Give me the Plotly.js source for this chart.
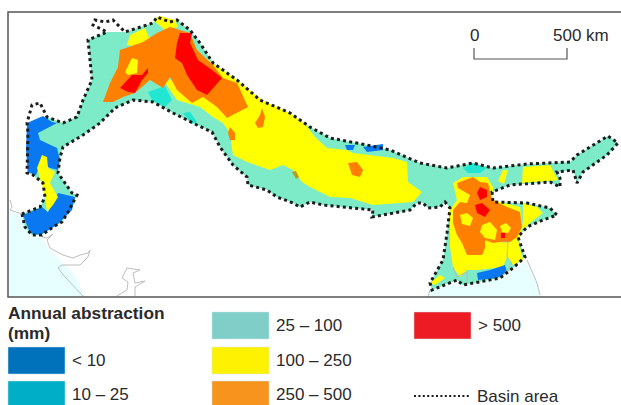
<!DOCTYPE html>
<html>
<head>
<meta charset="utf-8">
<script src="https://cdn.plot.ly/plotly-3.0.1.min.js"></script>
<style>
html,body{margin:0;padding:0;background:#fff}
#chart{width:621px;height:405px}
.scatterlayer{filter:blur(0.6px)}
</style>
</head>
<body>
<div id="chart"></div>
<script>
// Basin outline
const basinX = [22,25,32,42,53,62,68,77,72,65,58,60,63,83,100,115,133,153,173,197,212,220,233,247,248,267,277,293,300,310,323,343,373,372,410,417,423,428,440,445,450,447,443,430,432,457,463,500,513,525,518,527,543,557,550,527,493,492,510,550,560,560,557,573,577,583,607,618,608,577,570,527,493,473,447,420,390,367,330,310,290,260,237,213,200,190,177,170,157,153,125,113,105,95,93,107,88,92,83,77,63,47,40,32,27,28,27,33,43,45,40,22];
const basinY = [214,227,235,235,227,222,212,195,193,183,173,158,147,135,123,108,100,102,113,125,132,147,165,177,185,190,197,203,207,202,205,207,210,217,210,203,203,208,207,202,208,233,260,283,290,280,285,278,268,257,237,227,220,215,208,203,202,192,185,182,187,178,172,170,183,172,155,143,136,155,162,164,168,163,168,163,150,145,138,127,113,100,80,63,43,30,20,22,17,23,32,20,22,20,25,32,40,80,100,117,123,117,103,105,123,133,173,175,183,197,207,214];
// Land under the classes (25 - 100 mm)
const landX = [22,25,32,42,53,62,68,77,72,65,58,60,63,83,100,115,133,153,173,197,212,220,233,247,248,267,277,293,300,310,323,343,373,372,410,417,423,428,440,445,450,447,443,430,432,457,463,500,513,525,518,527,543,557,550,527,493,492,510,550,560,560,557,573,577,583,607,618,608,577,570,527,493,473,447,420,390,367,330,310,290,260,237,213,200,190,177,170,157,153,125,107,88,92,83,77,63,47,27,28,27,33,43,45,40,22];
const landY = [214,227,235,235,227,222,212,195,193,183,173,158,147,135,123,108,100,102,113,125,132,147,165,177,185,190,197,203,207,202,205,207,210,217,210,203,203,208,207,202,208,233,260,283,290,280,285,278,268,257,237,227,220,215,208,203,202,192,185,182,187,178,172,170,183,172,155,143,136,155,162,164,168,163,168,163,150,145,138,127,113,100,80,63,43,30,20,22,17,23,32,32,40,80,100,117,123,117,123,133,173,175,183,197,207,214];
// Pale sea
const seaWestX = [9,22,32,42,48,62,75,85,9];
const seaWestY = [212,216,236,238,248,262,275,297,297];
const seaEastX = [430,457,500,525,537,540,430];
const seaEastY = [290,283,280,262,283,297,297];
// Yellow 100 - 250 mm
const yellowMainX = [165,175,205,237,262,290,305,315,327,347,353,393,407,408,422,413,373,350,330,310,302,293,283,270,247,233,230,223,213,200,177,170];
const yellowMainY = [82,78,58,80,100,113,124,137,148,150,153,158,162,182,192,202,205,198,197,187,182,170,165,170,162,155,133,123,117,107,100,90];
const yellowTopX = [127,130,145,150,140];
const yellowTopY = [45,35,28,40,47];
const yellowRimX = [153,160,175,178,165];
const yellowRimY = [20,16,20,27,30];
const yellowIslandX = [125,132,138,137,128];
const yellowIslandY = [72,58,60,73,75];
const yellowWestX = [37,42,47,48,55,50,58,53,47,45,42];
const yellowWestY = [168,155,157,168,172,183,197,205,212,197,185];
const yellowDeltaX = [453,463,487,493,492,520,523,518,523,513,507,503,477,467,460,453,450,450,457];
const yellowDeltaY = [183,177,177,187,200,207,227,240,260,265,257,267,270,270,277,267,247,210,200];
const yellowEastX = [523,550,558,550,522];
const yellowEastY = [167,165,180,181,183];
const yellowStripeX = [498,503,508,504];
const yellowStripeY = [181,170,170,184];
const yellowSpurX = [523,537,543,530,523];
const yellowSpurY = [203,207,213,223,230];
const yellowTipX = [430,440,445,435];
const yellowTipY = [283,275,278,285];
const yellowPatchAX = [460,467,473,470,462];
const yellowPatchAY = [215,213,218,226,224];
const yellowPatchBX = [482,490,497,495,485,480];
const yellowPatchBY = [225,222,230,240,238,232];
const yellowPatchCX = [500,506,511,508,502];
const yellowPatchCY = [226,223,228,233,232];
// Orange 250 - 500 mm
const orangeNorthX = [103,110,118,120,143,157,170,180,190,197,213,223,237,248,233,227,217,203,192,177,170,163,150,135,123,113];
const orangeNorthY = [102,83,67,50,42,33,27,30,33,50,65,78,83,107,115,118,107,97,103,90,77,88,80,93,97,102];
const orangeSmallAX = [262,265,263,258,255,260];
const orangeSmallAY = [108,117,127,128,123,115];
const orangeSmallBX = [230,235,235,230,228];
const orangeSmallBY = [127,133,140,140,133];
const orangeMidX = [348,357,363,360,352];
const orangeMidY = [163,162,170,177,175];
const orangeDeltaX = [457,465,473,480,488,492,507,520,522,517,510,500,493,485,485,482,467,462,457,453,453,460,467,470,458];
const orangeDeltaY = [183,180,177,182,183,200,207,212,227,237,242,242,243,240,248,255,255,243,235,223,210,202,203,195,188];
// Red > 500 mm
const redNorthX = [180,192,190,198,212,222,207,197,187,182,175,177];
const redNorthY = [33,33,43,60,70,78,95,90,75,63,58,43];
const redWestX = [120,132,142,148,148,142,135,128];
const redWestY = [88,75,75,68,73,80,93,92];
const redDeltaAX = [480,487,487,480,477];
const redDeltaAY = [187,190,197,200,193];
const redDeltaBX = [475,482,490,485,477];
const redDeltaBY = [205,203,210,217,213];
const redDotX = [501,505,505,501];
const redDotY = [233,233,238,238];
// Blue < 10 mm
const blueNorthX = [27,43,52,57,38,40,57,60,58,50,45,38,36,28,26];
const blueNorthY = [123,116,122,123,133,140,148,160,170,168,165,170,175,172,150];
const blueSouthX = [23,42,48,58,75,72,57,40,30];
const blueSouthY = [215,207,212,193,197,210,225,235,233];
const blueGangaAX = [345,355,353,347];
const blueGangaAY = [145,145,150,150];
const blueGangaBX = [363,383,383,367];
const blueGangaBY = [147,144,150,152];
const blueDeltaX = [477,490,505,507,497,478];
const blueDeltaY = [273,270,265,272,278,280];
// Cyan 10 - 25 mm
const cyanNorthX = [148,165,172,165,152];
const cyanNorthY = [92,86,100,107,100];
const cyanStripX = [183,190,197,192];
const cyanStripY = [113,112,122,124];
const cyanDeltaX = [463,473,487,480,468];
const cyanDeltaY = [168,163,168,173,173];
// Small olive spot in the plain
const oliveX = [292,296,299,296];
const oliveY = [172,171,177,179];
// Coast lines
const coastAX = [10,12,10,22];
const coastAY = [200,207,210,214];
const coastBX = [42,47,53,47,50,63,73,80,88,90,88,80,62,58,65,75,83];
const coastBY = [237,238,234,240,248,255,258,255,253,250,257,265,265,268,277,287,296];
const coastCX = [117,127,128,122,127,140,133,135,145,135,135];
const coastCY = [296,290,282,278,268,270,273,283,281,287,296];
const coastDX = [453,457,467,467];
const coastDY = [267,277,272,283];
const coastEX = [502,508,507,512,502];
const coastEY = [242,242,257,263,277];
const coastFX = [527,530,537,540];
const coastFY = [260,267,283,295];
const coastGX = [430,428];
const coastGY = [290,297];

// Legend
const legendLabels = ['< 10','10 – 25','25 – 100','100 – 250','250 – 500','> 500'];
const legendColors = ['#0072BC','#00AEC8','#7FCEC8','#FFF200','#F7941D','#ED1C24'];
const legendColumn = [0,0,1,1,1,2];
const legendRow = [1,2,0,1,2,0];

const mapColors = {teal:'#7DEBC8', cyan:'#20E6D2', yellow:'#FFFF00', orange:'#FF8000', red:'#FF0000', blue:'#0A78F0', sea:'#E8FFFF', olive:'#B0A020'};
const areas = [
  [seaWestX,seaWestY,'sea'],[seaEastX,seaEastY,'sea'],
  [landX,landY,'teal'],
  [cyanNorthX,cyanNorthY,'cyan'],[cyanStripX,cyanStripY,'cyan'],[cyanDeltaX,cyanDeltaY,'cyan'],
  [yellowMainX,yellowMainY,'yellow'],[yellowTopX,yellowTopY,'yellow'],[yellowRimX,yellowRimY,'yellow'],
  [yellowDeltaX,yellowDeltaY,'yellow'],[yellowEastX,yellowEastY,'yellow'],[yellowStripeX,yellowStripeY,'yellow'],[yellowSpurX,yellowSpurY,'yellow'],[yellowTipX,yellowTipY,'yellow'],
  [blueNorthX,blueNorthY,'blue'],[blueSouthX,blueSouthY,'blue'],[blueGangaAX,blueGangaAY,'blue'],[blueGangaBX,blueGangaBY,'blue'],[blueDeltaX,blueDeltaY,'blue'],
  [yellowWestX,yellowWestY,'yellow'],[oliveX,oliveY,'olive'],
  [orangeNorthX,orangeNorthY,'orange'],[orangeSmallAX,orangeSmallAY,'orange'],[orangeSmallBX,orangeSmallBY,'orange'],[orangeMidX,orangeMidY,'orange'],[orangeDeltaX,orangeDeltaY,'orange'],
  [yellowIslandX,yellowIslandY,'yellow'],[yellowPatchAX,yellowPatchAY,'yellow'],[yellowPatchBX,yellowPatchBY,'yellow'],[yellowPatchCX,yellowPatchCY,'yellow'],
  [redNorthX,redNorthY,'red'],[redWestX,redWestY,'red'],[redDeltaAX,redDeltaAY,'red'],[redDeltaBX,redDeltaBY,'red'],[redDotX,redDotY,'red']
];
const coasts = [[coastAX,coastAY],[coastBX,coastBY],[coastCX,coastCY],[coastDX,coastDY],[coastEX,coastEY],[coastFX,coastFY],[coastGX,coastGY]];

const traces = [];
areas.forEach(a => traces.push({x:a[0],y:a[1],type:'scatter',mode:'lines',fill:'toself',fillcolor:mapColors[a[2]],line:{width:0},hoverinfo:'skip',showlegend:false}));
coasts.forEach(c => traces.push({x:c[0],y:c[1],type:'scatter',mode:'lines',line:{color:'#B4B8B8',width:0.9},hoverinfo:'skip',showlegend:false}));
traces.push({x:basinX,y:basinY,type:'scatter',mode:'lines',line:{color:'#1c1c1c',width:3,dash:'3px,3.2px'},hoverinfo:'skip',showlegend:false});

const fontFam = '"Liberation Sans", Arial, sans-serif';
const ink = '#2b2a2b';
const colX = [8,212,414], rowY = [312,347,381], swW = 57, swH = 27;
const shapes = [
  {type:'path',path:'M621,12 L8,12 L8,297 L621,297',line:{color:'#555',width:1.5},layer:'above'},
  {type:'path',path:'M474,48 L474,59 L567,59 L567,48',line:{color:'#555',width:1.2},layer:'above'},
  {type:'line',x0:414,x1:470,y0:396,y1:396,line:{color:'#1c1c1c',width:2,dash:'2px,2.4px'}}
];
const annotations = [
  {x:6,y:313,text:'<b>Annual abstraction</b>',size:17.3},
  {x:6,y:333,text:'<b>(mm)</b>',size:17.3},
  {x:474,y:35,text:'0',size:17,anchor:'center'},
  {x:551,y:35,text:'500 km',size:17},
  {x:475,y:396,text:'Basin area',size:17}
];
legendLabels.forEach((lab,i)=>{
  const x0 = colX[legendColumn[i]], y0 = rowY[legendRow[i]];
  shapes.push({type:'rect',x0:x0,x1:x0+swW,y0:y0,y1:y0+swH,fillcolor:legendColors[i],line:{color:'#cfe6ea',width:0.5}});
  annotations.push({x:x0+swW+5,y:y0+13,text:lab,size:17});
});

const layout = {
  width:621,height:405,margin:{l:0,r:0,t:0,b:0},
  paper_bgcolor:'#fff',plot_bgcolor:'#fff',showlegend:false,
  xaxis:{range:[0,621],visible:false,fixedrange:true},
  yaxis:{range:[405,0],visible:false,fixedrange:true},
  shapes:shapes,
  annotations:annotations.map(a=>({x:a.x,y:a.y,xref:'x',yref:'y',text:a.text,showarrow:false,xanchor:a.anchor||'left',yanchor:'middle',font:{family:fontFam,size:a.size,color:ink}}))
};
Plotly.newPlot('chart',traces,layout,{displayModeBar:false,staticPlot:true});
</script>
</body>
</html>
